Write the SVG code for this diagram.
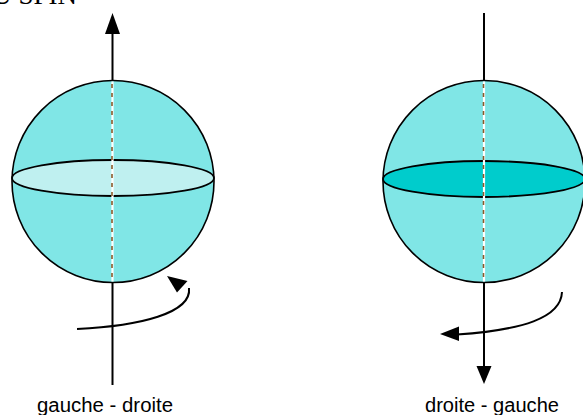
<svg xmlns="http://www.w3.org/2000/svg" width="583" height="415" viewBox="0 0 583 415">
  <style>
    .sphere { fill: #80E6E6; stroke: #000; stroke-width: 1.6; }
    .axis { stroke: #000; stroke-width: 2; fill: none; }
    .core { stroke: #fff; stroke-width: 2.2; }
    .dash { stroke: #8B5A2B; stroke-width: 1.6; stroke-dasharray: 4 5; }
    .equator { stroke: #000; stroke-width: 1.8; }
    .spin { stroke: #000; stroke-width: 2; fill: none; }
    .head { fill: #000; }
    .label { font-family: "Liberation Sans", Arial, sans-serif; font-size: 20px; fill: #000; }
    .title { font-family: "Liberation Serif", "Times New Roman", serif; font-size: 27px; fill: #000; }
  </style>

  <!-- heading runs off the top edge of the sheet -->
  <text class="title" x="77" y="4" text-anchor="end">U SPIN</text>

  <g id="spin-left">
    <line class="axis" x1="112.5" y1="30" x2="112.5" y2="385"/>
    <polygon class="head" points="112.5,13 105,34 120,34"/>
    <circle class="sphere" cx="113" cy="181.5" r="101"/>
    <ellipse class="equator" cx="113" cy="178" rx="101" ry="18" fill="#BFF0F0"/>
    <line class="core" x1="112.5" y1="81.5" x2="112.5" y2="281.5"/>
    <line class="dash" x1="112" y1="84" x2="112" y2="281"/>
    <text class="label" x="105" y="412" text-anchor="middle" textLength="136" lengthAdjust="spacingAndGlyphs">gauche - droite</text>
  </g>

  <g id="spin-right">
    <line class="axis" x1="484" y1="13" x2="484" y2="370"/>
    <polygon class="head" points="484,384 476.5,366 491.5,366"/>
    <circle class="sphere" cx="484" cy="181.5" r="101"/>
    <ellipse class="equator" cx="484" cy="179" rx="101" ry="18" fill="#00CCCC"/>
    <line class="core" x1="484" y1="81.5" x2="484" y2="281.5"/>
    <line class="dash" x1="483.5" y1="84" x2="483.5" y2="281"/>
    <text class="label" x="492" y="412" text-anchor="middle" textLength="134" lengthAdjust="spacingAndGlyphs">droite - gauche</text>
  </g>

  <g id="connectors">
    <path class="spin" d="M77,329 C140,326 192,313 189,288"/>
    <polygon class="head" points="167,276 187.5,281 177,292.5"/>
    <path class="spin" d="M562,292 C561,318 522,330 457,334.5"/>
    <polygon class="head" points="440,334 459,326.5 459,341"/>
  </g>
</svg>
